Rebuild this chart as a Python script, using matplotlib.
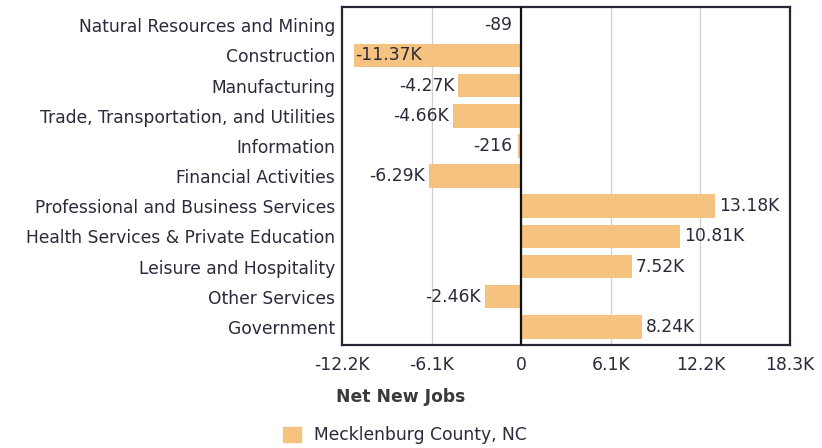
import matplotlib.pyplot as plt
import numpy as np
from matplotlib.patches import Patch

plt.rcParams['font.family'] = ['DejaVu Sans']

# Data
categories = ["Natural Resources and Mining", "Construction", "Manufacturing",
              "Trade, Transportation, and Utilities", "Information",
              "Financial Activities", "Professional and Business Services",
              "Health Services & Private Education", "Leisure and Hospitality",
              "Other Services", "Government"]
values = [-89, -11370, -4270, -4660, -216, -6290, 13180, 10810, 7520, -2460, 8240]
value_labels = ["-89", "-11.37K", "-4.27K", "-4.66K", "-216", "-6.29K",
                "13.18K", "10.81K", "7.52K", "-2.46K", "8.24K"]
xticks = [-12200, -6100, 0, 6100, 12200, 18300]
xtick_labels = ["-12.2K", "-6.1K", "0", "6.1K", "12.2K", "18.3K"]

bar_color = "#F5C27F"
text_color = "#2a2a3a"
fs = 12.3

fig = plt.figure(figsize=(8.22, 4.48), dpi=100)
ax = fig.add_axes([0.416, 0.230, 0.545, 0.754])

y = np.arange(len(categories))
ax.barh(y, values, height=0.78, color=bar_color, zorder=2)

ax.set_xlim(-12200, 18300)
ax.set_ylim(len(categories) - 0.4, -0.6)
ax.set_yticks(y)
ax.set_yticklabels(categories, fontsize=fs, color=text_color)
ax.set_xticks(xticks)
ax.set_xticklabels(xtick_labels, fontsize=fs, color=text_color)
ax.tick_params(axis="y", length=0, pad=5)
ax.tick_params(axis="x", length=0, pad=8)
for lab in ax.get_xticklabels():
    lab.set_clip_on(False)

for xv in xticks[1:-1]:
    ax.axvline(xv, color="#cfcfcf", lw=0.9, zorder=1)
ax.axvline(0, color="#111111", lw=1.6, zorder=3)

for s in ax.spines.values():
    s.set_color("#2b2233")
    s.set_linewidth(1.6)

# Value labels
for yi, v, lab in zip(y, values, value_labels):
    if v >= 0:
        ax.annotate(lab, (v, yi), xytext=(3, 0), textcoords="offset points",
                    ha="left", va="center", fontsize=fs, color=text_color, zorder=4)
    elif v < -9000:
        ax.annotate(lab, (v, yi), xytext=(1, 0), textcoords="offset points",
                    ha="left", va="center", fontsize=fs, color=text_color, zorder=4)
    else:
        ax.annotate(lab, (min(v, -300), yi), xytext=(-3, 0), textcoords="offset points",
                    ha="right", va="center", fontsize=fs, color=text_color, zorder=4)

fig.text(0.487, 0.113, "Net New Jobs", fontsize=fs, fontweight="bold",
         color="#3a3a3a", ha="center", va="center")

fig.legend(handles=[Patch(color=bar_color, label="Mecklenburg County, NC")],
           loc="center", bbox_to_anchor=(0.493, 0.028), frameon=False,
           fontsize=fs, handlelength=1.0, handleheight=1.0, handletextpad=0.8,
           labelcolor=text_color)

fig.savefig("out.png", dpi=100)
